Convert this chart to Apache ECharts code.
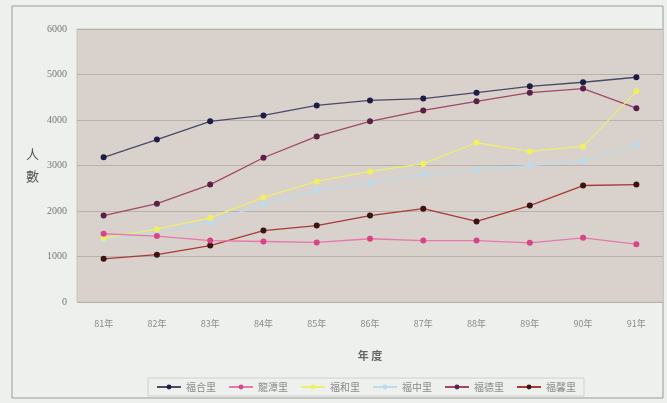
<!DOCTYPE html>
<html><head><meta charset="utf-8">
<script src="https://cdn.jsdelivr.net/npm/echarts@6/dist/echarts.min.js"></script>
<style>html,body{margin:0;padding:0;background:#eef0ee;}#c{width:667px;height:403px;}</style>
</head><body><div id="c"></div>
<script>
const categories = ['81年','82年','83年','84年','85年','86年','87年','88年','89年','90年','91年'];
const names = ['福合里','龍潭里','福和里','福中里','福德里','福馨里'];
const s1 = [3180,3570,3970,4100,4320,4430,4470,4600,4740,4830,4940];
const s2 = [1500,1450,1350,1330,1310,1390,1350,1350,1300,1410,1270];
const s3 = [1400,1600,1850,2300,2650,2870,3040,3500,3310,3420,4630];
const s4 = [1350,1550,1750,2150,2450,2620,2800,2900,3000,3100,3450];
const s5 = [1900,2160,2580,3170,3640,3970,4210,4410,4600,4690,4260];
const s6 = [950,1040,1240,1570,1680,1900,2050,1770,2120,2560,2580];
const yTicks = [0,1000,2000,3000,4000,5000,6000];

const values = [s1,s2,s3,s4,s5,s6];
const lineColors = ['#4a4a66','#e878a8','#eeee70','#bcdcec','#a04868','#a83a34'];
const markColors = ['#1c1c44','#d84488','#f0f060','#bcdcec','#5a2048','#3a1410'];

const chart = echarts.init(document.getElementById('c'));
chart.setOption({
  backgroundColor:'#eef0ee',
  animation:false,
  graphic:[
    {type:'rect',shape:{x:12,y:6,width:651,height:392},style:{fill:'none',stroke:'#9a9c9a',lineWidth:1},z:-1}
  ],
  grid:{left:77,top:29,right:4,bottom:101,show:true,backgroundColor:'#d8d1cc',borderColor:'#c8c4c0',borderWidth:1},
  legend:{
    bottom:7,left:148,itemGap:12,itemWidth:24,itemHeight:6,
    borderColor:'#d0d2d0',borderWidth:1,padding:[4,8,4,8],
    textStyle:{fontFamily:'Noto Sans CJK TC',fontSize:10,color:'#8a8a8a'},
    data:names
  },
  xAxis:{
    type:'category',data:categories,boundaryGap:true,
    name:'年 度',nameLocation:'middle',nameGap:48,
    nameTextStyle:{fontFamily:'Noto Sans CJK TC',fontSize:11,fontWeight:'bold',color:'#666'},
    axisLine:{show:false},axisTick:{show:false},
    axisLabel:{fontFamily:'Noto Sans CJK TC',fontSize:9,color:'#8a8a8a',margin:17}
  },
  yAxis:{
    type:'value',min:0,max:6000,interval:1000,
    name:'人\n數',nameLocation:'middle',nameGap:38,nameRotate:0,
    nameTextStyle:{fontFamily:'Noto Sans CJK TC',fontSize:13,color:'#555',lineHeight:22},
    axisLine:{show:false},axisTick:{show:false},
    axisLabel:{fontFamily:'Liberation Serif',fontSize:10,color:'#777',margin:10,
      formatter:v=>yTicks.includes(v)?String(v):''},
    splitLine:{lineStyle:{color:'#b8b2ac',width:1}}
  },
  series: names.map((n,i)=>({
    name:n,type:'line',data:values[i],symbol:'circle',symbolSize:6,
    lineStyle:{color:lineColors[i],width:1.3},
    itemStyle:{color:markColors[i]},
    z:10-i
  }))
});
</script></body></html>
